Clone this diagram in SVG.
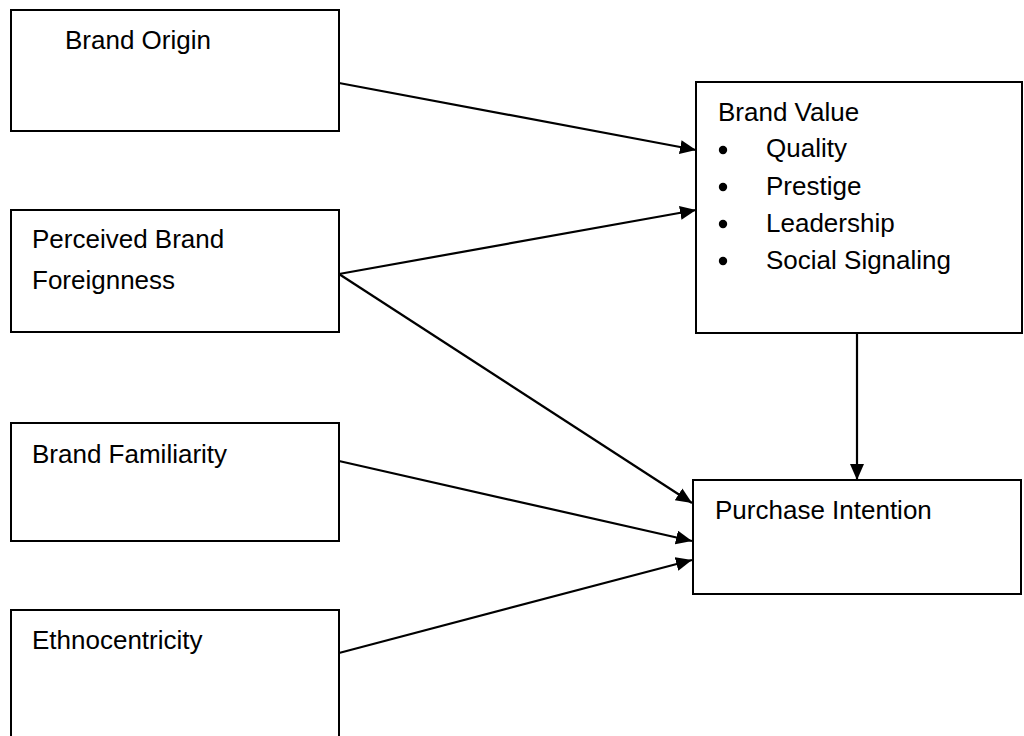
<svg xmlns="http://www.w3.org/2000/svg" width="1024" height="736" viewBox="0 0 1024 736">
<style>
.box{fill:#fff;stroke:#000;stroke-width:2}
.t{font-family:"Liberation Sans",Arial,sans-serif;font-size:26px;fill:#000}
.c{stroke:#000;stroke-width:2.2;fill:none}
</style>
<defs>
<marker id="ah" markerUnits="userSpaceOnUse" markerWidth="18" markerHeight="16" refX="16" refY="7" orient="auto">
<path d="M0,0 L16,7 L0,14 z" fill="#000"/>
</marker>
</defs>
<rect width="1024" height="736" fill="#fff"/>
<g id="brand-origin">
<rect class="box" x="11" y="10" width="328" height="121"/>
<text class="t" x="65" y="49">Brand Origin</text>
</g>
<g id="perceived-brand-foreignness">
<rect class="box" x="11" y="210" width="328" height="122"/>
<text class="t" x="32" y="248">Perceived Brand</text>
<text class="t" x="32" y="289">Foreignness</text>
</g>
<g id="brand-familiarity">
<rect class="box" x="11" y="423" width="328" height="118"/>
<text class="t" x="32" y="463">Brand Familiarity</text>
</g>
<g id="ethnocentricity">
<rect class="box" x="11" y="610" width="328" height="140"/>
<text class="t" x="32" y="649">Ethnocentricity</text>
</g>
<g id="brand-value">
<rect class="box" x="696" y="82" width="326" height="251"/>
<text class="t" x="718" y="121">Brand Value</text>
<circle cx="723" cy="150" r="4.2"/>
<circle cx="723" cy="187" r="4.2"/>
<circle cx="723" cy="224" r="4.2"/>
<circle cx="723" cy="261" r="4.2"/>
<text class="t" x="766" y="157">Quality</text>
<text class="t" x="766" y="195">Prestige</text>
<text class="t" x="766" y="232">Leadership</text>
<text class="t" x="766" y="269">Social Signaling</text>
</g>
<g id="purchase-intention">
<rect class="box" x="693" y="480" width="328" height="114"/>
<text class="t" x="715" y="519">Purchase Intention</text>
</g>
<g id="connectors">
<line class="c" x1="339" y1="83" x2="696" y2="150" marker-end="url(#ah)"/>
<line class="c" x1="339" y1="274" x2="696" y2="210" marker-end="url(#ah)"/>
<line class="c" x1="339" y1="274" x2="692" y2="503" marker-end="url(#ah)"/>
<line class="c" x1="339" y1="461" x2="692" y2="541" marker-end="url(#ah)"/>
<line class="c" x1="339" y1="653" x2="692" y2="560" marker-end="url(#ah)"/>
<line class="c" x1="857" y1="333" x2="857" y2="480" marker-end="url(#ah)"/>
</g>
</svg>
